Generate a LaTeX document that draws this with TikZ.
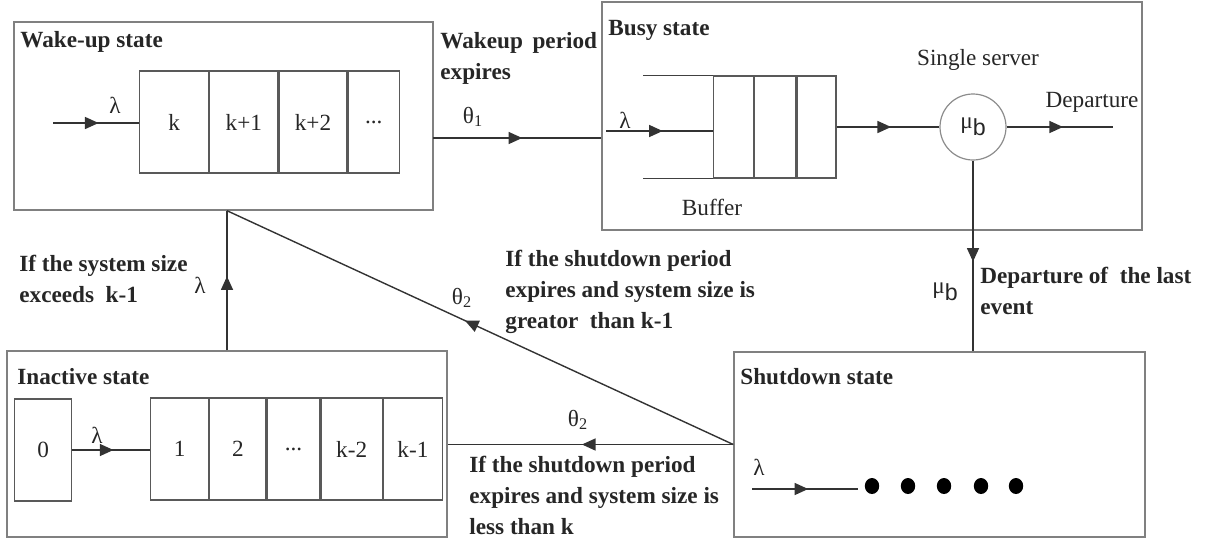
\documentclass[tikz,border=0pt]{standalone}
\usepackage{fontspec}
\setmainfont{Liberation Serif}
\setsansfont{Liberation Sans}
\usetikzlibrary{arrows.meta,decorations.markings}
\begin{document}
\begin{tikzpicture}[x=0.5pt,y=-0.5pt,
  txt/.style={font=\fontsize{11.6}{15.5}\selectfont, text=black!85, inner sep=0pt},
  bold/.style={font=\fontsize{11.6}{15.5}\selectfont\bfseries, text=black!85, inner sep=0pt, align=left, anchor=west},
  statebox/.style={draw=black!50, line width=0.7pt, inner sep=0pt},
  cell/.style={draw=black!65, line width=0.6pt, inner sep=0pt, font=\fontsize{11.6}{15.5}\selectfont, text=black!85, minimum height=51pt, anchor=west},
  cellline/.style={draw=black!75, line width=0.6pt},
  conn/.style={draw=black!80, line width=0.7pt},
  midarr/.style={conn, postaction={decorate}, decoration={markings, mark=at position 0.53 with {\arrow{Triangle[length=6.8pt,width=6pt]}}}}
]
\useasboundingbox (0,0) rectangle (1210,542);

% state boxes
\node[statebox, minimum width=209.5pt, minimum height=94pt] (wake) at (223.5,116) {};
\node[statebox, minimum width=270pt, minimum height=114pt] (busy) at (872,116) {};
\node[statebox, minimum width=220pt, minimum height=93pt] (inact) at (227,444) {};
\node[statebox, minimum width=205.5pt, minimum height=92.5pt] (shut) at (939.5,444.5) {};

% titles
\node[bold] (ttl1) at (20,42) {Wake-up state};
\node[bold] (ttl2) at (608,30) {Busy state};
\node[bold] (ttl3) at (17,377) {Inactive state};
\node[bold] (ttl4) at (740,377) {Shutdown state};

% wake-up queue
\node[cell, minimum width=34.5pt] (wk1) at (139,122) {k};
\node[cell, minimum width=34pt] (wk2) at (wk1.east) {k+1};
\node[cell, minimum width=34pt] (wk3) at (wk2.east) {k+2};
\node[cell, minimum width=25.5pt] (wk4) at (wk3.east) {...};
\coordinate (wkin) at (53,123);
\draw[midarr] (wkin) -- (wkin -| wk1.west);
\node[txt] (lam1) at (115,105) {λ};

% wake -> busy
\coordinate (th1s) at (433,138);
\draw[midarr] (th1s) -- (th1s -| busy.west);
\node[txt] (th1) at (473,117) {θ\textsubscript{1}};
\node[bold] (l1) at (440,58) {Wakeup \,period\\expires};

% busy internals
\node[cell, minimum width=20pt] (bf1) at (713,127) {};
\node[cell, minimum width=20.5pt] (bf2) at (bf1.east) {};
\node[cell, minimum width=19.5pt] (bf3) at (bf2.east) {};
\draw[cellline] (bf1.north west) -- ++(-70,0);
\draw[cellline] (bf1.south west) -- ++(-70,0);
\coordinate (bin) at (606,131);
\draw[midarr] (bin) -- (bin -| bf1.west);
\node[txt] (lam2) at (625,120) {λ};
\node[txt] (bufl) at (712,207) {Buffer};
\node[circle, draw=black!45, line width=0.6pt, minimum size=33pt, inner sep=0pt, font=\fontsize{11.6}{15.5}\selectfont, text=black!85] (srv) at (973,127) {μ\raisebox{-0.7ex}{\sffamily b}};
\draw[midarr] (bf3.east) -- (srv.west);
\node[txt] (ssl) at (978,60) {Single server};
\coordinate (dep) at (1113,127);
\draw[midarr] (srv.east) -- (dep);
\node[txt] (depl) at (1092,102) {Departure};

% busy -> shutdown
\draw[midarr] (srv.south) -- (srv.south |- shut.north);
\node[txt] (mub) at (945,292) {μ\raisebox{-0.7ex}{\sffamily b}};
\node[bold] (l5) at (980,291) {Departure of \ the last\\event};

% inactive internals
\node[cell, minimum width=28.5pt] (z0) at (14,450) {0};
\node[cell, minimum width=29pt] (in1) at (150,449) {1};
\node[cell, minimum width=28pt] (in2) at (in1.east) {2};
\node[cell, minimum width=26.5pt] (in3) at (in2.east) {...};
\node[cell, minimum width=30.5pt] (in4) at (in3.east) {k-2};
\node[cell, minimum width=29.5pt] (in5) at (in4.east) {k-1};
\draw[midarr] (z0.east) -- (z0.east -| in1.west);
\node[txt] (lam3) at (97,435) {λ};

% inactive -> wake
\coordinate (wj) at (inact.north |- wake.south);
\draw[midarr] (inact.north) -- (wj);
\node[txt] (lam4) at (200,285) {λ};
\node[bold] (l2) at (19,279) {If the system size\\exceeds \ k-1};

% shutdown -> wake (diagonal)
\draw[midarr] (shut.west) -- (wj);
\node[txt] (th2a) at (462,298) {θ\textsubscript{2}};
\node[bold] (l3) at (505,292) {If the shutdown period\\expires and system size is\\greator \ than k-1};

% shutdown -> inactive
\draw[midarr] (shut.west) -- (shut.west -| inact.east);
\node[txt] (th2b) at (578,420) {θ\textsubscript{2}};
\node[bold] (l4) at (469,495) {If the shutdown period\\expires and system size is\\less than k};

% shutdown internals
\coordinate (sin) at (752,489);
\coordinate (sout) at (858,489);
\draw[midarr] (sin) -- (sout);
\node[txt] (lam5) at (759,467) {λ};
\foreach \xx in {872,908,944,981,1016}
  \fill[black] (\xx,486) ellipse [x radius=3.6pt, y radius=4pt];

\end{tikzpicture}
\end{document}
